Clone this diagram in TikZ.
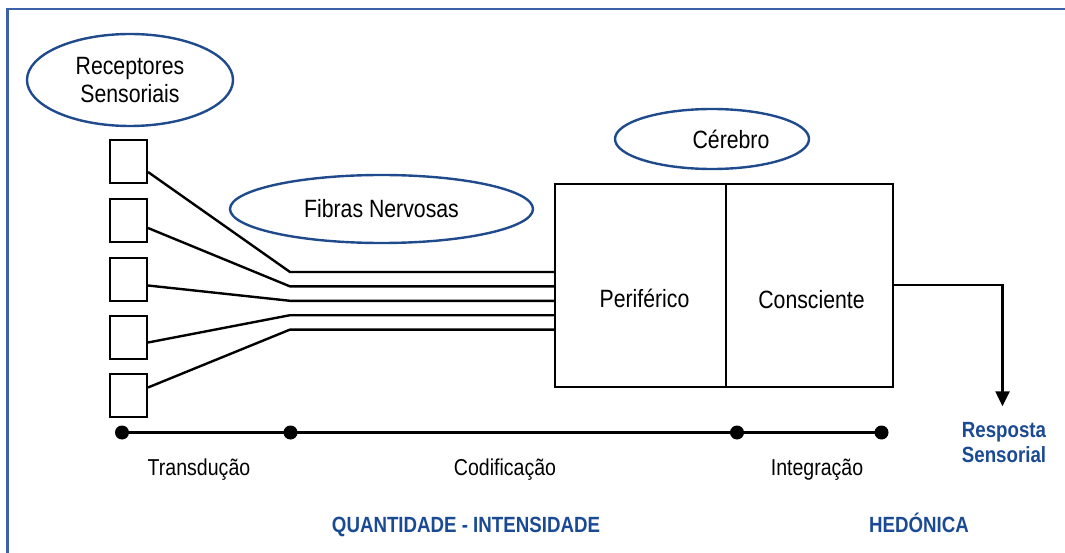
\documentclass[tikz,border=0pt]{standalone}
\usepackage{fontspec}
\setmainfont{Liberation Sans}[FakeStretch=0.85]
\usepackage[HTML]{xcolor}
\usepackage{tikz}
\usetikzlibrary{positioning, arrows.meta, shapes.geometric}

\definecolor{ovalblue}{HTML}{1F4A8C}
\definecolor{labelblue}{HTML}{1B4A94}
\definecolor{framebl}{HTML}{3B62A6}

\tikzset{
  oval/.style={ellipse, draw=ovalblue, line width=2.4pt, align=center, inner sep=0pt},
  rotulo/.style={font=\fontsize{25}{28}\selectfont, align=center},
  recbox/.style={draw, line width=2pt, minimum width=37pt, minimum height=43pt, inner sep=0pt},
  brainbox/.style={draw, line width=2pt, minimum height=203pt, inner sep=0pt},
  fibra/.style={line width=2.4pt},
  marco/.style={circle, fill=black, minimum size=14pt, inner sep=0pt},
  etapa/.style={font=\fontsize{23}{27}\selectfont, anchor=base},
  azul/.style={text=labelblue, font=\fontsize{22}{25}\selectfont\bfseries, align=center},
}

\begin{document}
\begin{tikzpicture}[x=1pt, y=-1pt]
\useasboundingbox (0,0) rectangle (1065,553);
% frame
\draw[framebl, line width=2.5pt] (7.5,553) -- (7.5,9) -- (1065,9);

% ovals
\node[oval, rotulo, minimum width=206pt, minimum height=92pt] (receptores) at (130,80) {Receptores\\Sensoriais};
\node[oval, rotulo, minimum width=303pt, minimum height=68pt] (fibras) at (381.5,209) {Fibras Nervosas};
\node[oval, minimum width=194pt, minimum height=60pt] (cerebro) at (712,139) {};
\node[rotulo] at ([xshift=19pt]cerebro.center) {Cérebro};

% receptors
\foreach \i/\y in {1/162,2/221,3/279.5,4/337.5,5/395.5}
  \node[recbox] (r\i) at (128.5,\y) {};

% brain
\node[brainbox, minimum width=171pt] (periferico) at (640.5,285.5) {};
\node[brainbox, minimum width=167pt] (consciente) at (809.5,285.5) {};
\node[rotulo, anchor=base] at ([xshift=4pt]periferico.center |- 0,307) {Periférico};
\node[rotulo, anchor=base] at ([xshift=2pt]consciente.center |- 0,308) {Consciente};

% fibres
\foreach \i/\dy/\y in {1/10/272,2/7/286.4,3/6/300.8,4/5/315.2,5/-8/329.6} {
  \coordinate (j\i) at (290,\y);
  \draw[fibra] ([yshift=-\dy pt]r\i.east) -- (j\i) -- (j\i -| periferico.west);
}

% response
\node[azul] (resposta) at (1004,443) {Resposta\\Sensorial};
\coordinate (saida) at (1002.5,285);
\draw[fibra, -{Triangle[length=15pt, width=14pt]}] (saida -| consciente.east) -- (saida) -- ([yshift=13pt]resposta.north -| saida);

% stages
\node[marco] (d1) at (122,432.5) {};
\node[marco] (d2) at (290.5,432.5) {};
\node[marco] (d3) at (737,432.5) {};
\node[marco] (d4) at (881.5,432.5) {};
\draw[fibra] (d1.center) -- (d4.center);
\node[etapa] (transducao) at (199,475) {Transdução};
\node[etapa] (codificacao) at (505,475) {Codificação};
\node[etapa] (integracao) at (817,475) {Integração};

\node[azul, anchor=base] (quantidade) at (466,532) {QUANTIDADE - INTENSIDADE};
\node[azul, anchor=base] (hedonica) at (919,532) {HEDÓNICA};
\end{tikzpicture}
\end{document}
